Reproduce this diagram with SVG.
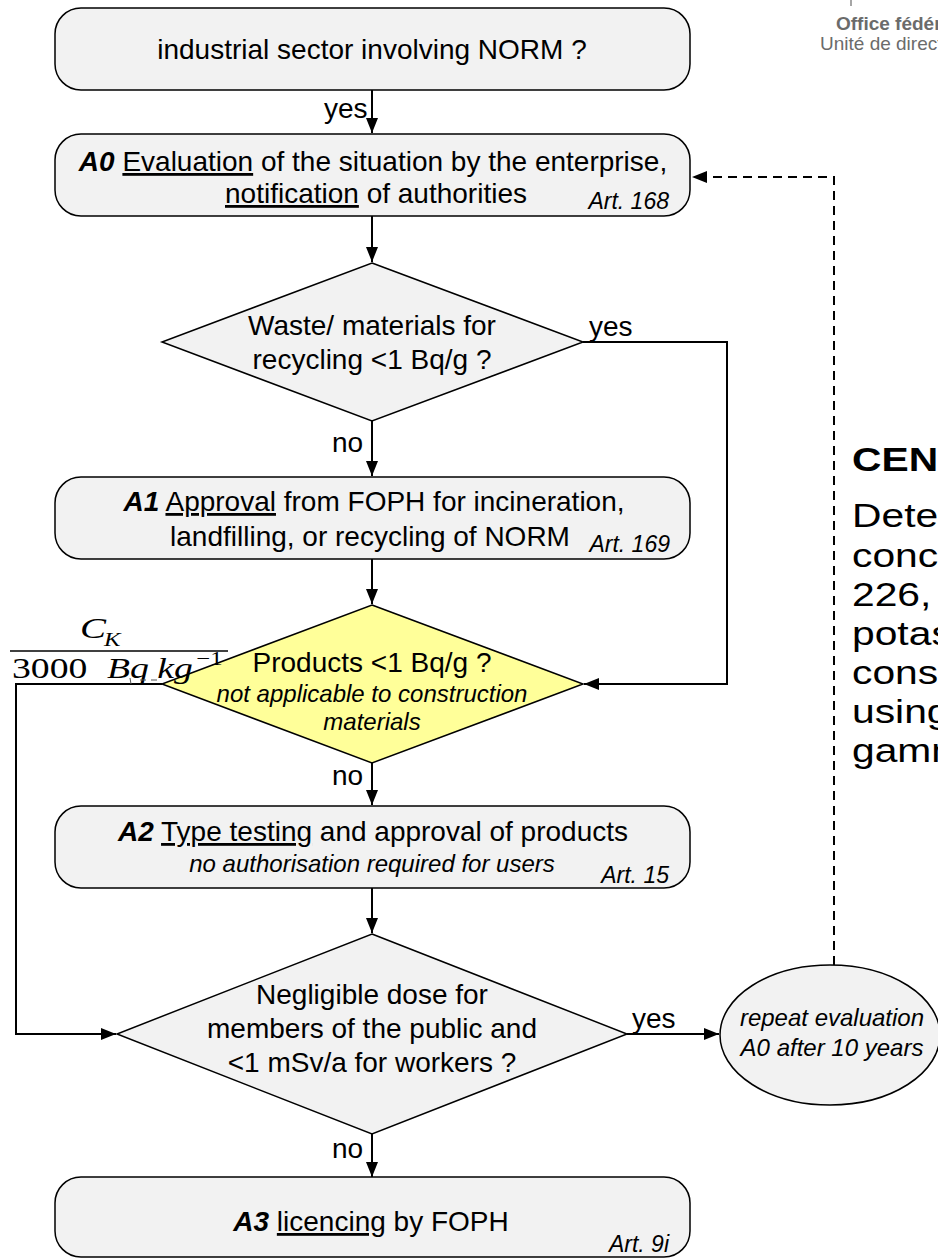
<svg xmlns="http://www.w3.org/2000/svg" width="938" height="1258" viewBox="0 0 938 1258">
<style>
.box{fill:#f2f2f2;stroke:#000;stroke-width:1.5}
.yel{fill:#ffff99;stroke:#000;stroke-width:1.5}
.t{font-family:"Liberation Sans",Arial,sans-serif;font-size:28px;fill:#000}
.c{text-anchor:middle}
.it{font-style:italic;font-size:24px}
.art{font-family:"Liberation Sans",Arial,sans-serif;font-style:italic;font-size:23px;text-anchor:end;fill:#000}
.bi{font-weight:bold;font-style:italic}
.u{text-decoration:underline}
.conn{fill:none;stroke:#000;stroke-width:2}
.dash{fill:none;stroke:#000;stroke-width:2;stroke-dasharray:9,6}
.f{font-family:"Liberation Serif","Times New Roman",serif;fill:#000}
.big{font-family:"Liberation Sans",Arial,sans-serif;font-size:34px;fill:#000}
.hdr{font-family:"Liberation Sans",Arial,sans-serif;fill:#6b6b6b;font-size:19px}
</style>
<defs>
<marker id="ah" markerUnits="userSpaceOnUse" markerWidth="15" markerHeight="12" refX="15" refY="6" orient="auto">
<path d="M0,0 L15,6 L0,12 z" fill="#000"/>
</marker>
</defs>

<g id="header">
<line x1="851" y1="0" x2="851" y2="6" stroke="#888" stroke-width="1.5"/>
<text class="hdr" x="836" y="30" font-weight="bold">Office fédéral de la santé publique OFSP</text>
<text class="hdr" x="820" y="50" font-size="20">Unité de direction Protection des consommateurs</text>
</g>

<g id="connectors">
<line class="conn" x1="372" y1="90" x2="372" y2="133" marker-end="url(#ah)"/>
<line class="conn" x1="372" y1="216" x2="372" y2="262" marker-end="url(#ah)"/>
<line class="conn" x1="372" y1="421" x2="372" y2="476" marker-end="url(#ah)"/>
<polyline class="conn" points="583,342 727,342 727,684 584,684" marker-end="url(#ah)"/>
<line class="conn" x1="372" y1="559" x2="372" y2="604" marker-end="url(#ah)"/>
<line class="conn" x1="372" y1="763" x2="372" y2="805" marker-end="url(#ah)"/>
<polyline class="conn" points="162,684 16,684 16,1034 116,1034" marker-end="url(#ah)"/>
<line class="conn" x1="372" y1="888" x2="372" y2="933" marker-end="url(#ah)"/>
<line class="conn" x1="627" y1="1034" x2="719" y2="1034" marker-end="url(#ah)"/>
<line class="conn" x1="372" y1="1134" x2="372" y2="1177" marker-end="url(#ah)"/>
<polyline class="dash" points="834,965 834,177 692,177" marker-end="url(#ah)"/>
<text class="t" x="324" y="118">yes</text>
<text class="t" x="589" y="336">yes</text>
<text class="t" x="332" y="452">no</text>
<text class="t" x="332" y="785">no</text>
<text class="t" x="632" y="1028">yes</text>
<text class="t" x="332" y="1158">no</text>
</g>

<g id="start">
<rect class="box" x="55" y="8" width="635" height="82" rx="26"/>
<text class="t c" x="372" y="59">industrial sector involving NORM ?</text>
</g>

<g id="a0">
<rect class="box" x="55" y="134" width="635" height="82" rx="26"/>
<text class="t c" x="373" y="171"><tspan class="bi">A0</tspan> <tspan class="u">Evaluation</tspan> of the situation by the enterprise,</text>
<text class="t c" x="376" y="203"><tspan class="u">notification</tspan> of authorities</text>
<text class="art" x="669" y="209">Art. 168</text>
</g>

<g id="d1">
<polygon class="box" points="372,263 583,342 372,421 162,342"/>
<text class="t c" x="372" y="335">Waste/ materials for</text>
<text class="t c" x="372" y="369">recycling &lt;1 Bq/g ?</text>
</g>

<g id="a1">
<rect class="box" x="55" y="477" width="635" height="82" rx="26"/>
<text class="t c" x="374" y="511"><tspan class="bi">A1</tspan> <tspan class="u">Approval</tspan> from FOPH for incineration,</text>
<text class="t c" x="370" y="546">landfilling, or recycling of NORM</text>
<text class="art" x="670" y="552">Art. 169</text>
</g>

<g id="d2">
<polygon class="yel" points="372,605 583,684 372,763 162,684"/>
<text class="t c" x="372" y="672" font-size="27">Products &lt;1 Bq/g ?</text>
<text class="t c it" x="372" y="702" font-size="25">not applicable to construction</text>
<text class="t c it" x="372" y="730" font-size="25">materials</text>
</g>

<g id="a2">
<rect class="box" x="55" y="806" width="635" height="82" rx="26"/>
<text class="t c" x="373" y="841"><tspan class="bi">A2</tspan> <tspan class="u">Type testing</tspan> and approval of products</text>
<text class="t c it" x="372" y="872">no authorisation required for users</text>
<text class="art" x="669" y="883">Art. 15</text>
</g>

<g id="d3">
<polygon class="box" points="372,934 627,1034 372,1134 117,1034"/>
<text class="t c" x="372" y="1004">Negligible dose for</text>
<text class="t c" x="372" y="1038">members of the public and</text>
<text class="t c" x="372" y="1072">&lt;1 mSv/a for workers ?</text>
</g>

<g id="repeat">
<ellipse class="box" cx="830" cy="1035" rx="110" ry="70"/>
<text class="t c it" x="832" y="1026">repeat evaluation</text>
<text class="t c it" x="832" y="1056">A0 after 10 years</text>
</g>

<g id="a3">
<rect class="box" x="55" y="1177" width="635" height="80" rx="26"/>
<text class="t c" x="371" y="1231"><tspan class="bi">A3</tspan> <tspan class="u">licencing</tspan> by FOPH</text>
<text class="art" x="669" y="1252">Art. 9i</text>
</g>

<g id="side" transform="scale(1.2,1)">
<text class="big" x="710" y="471" font-weight="bold" font-size="46">CEN/TS 17216</text>
<text class="big" x="710" y="527">Determination of activity</text>
<text class="big" x="710" y="567">concentrations of radium-</text>
<text class="big" x="710" y="606">226, thorium-232 and</text>
<text class="big" x="710" y="645">potassium-40 in</text>
<text class="big" x="710" y="684">construction products</text>
<text class="big" x="710" y="723">using semiconductor</text>
<text class="big" x="710" y="762">gamma-ray spectrometry</text>
</g>

<g id="formula">
<line x1="10" y1="651" x2="228" y2="651" stroke="#000" stroke-width="1.5"/>
<g transform="scale(1.3,1)">
<text class="f" x="61.5" y="638" font-size="30" font-style="italic">C</text>
<text class="f" x="80" y="646" font-size="19" font-style="italic">K</text>
<text class="f" x="9.2" y="678" font-size="29">3000</text>
<text class="f" x="82.3" y="678" font-size="29" font-style="italic">Bq</text>
<text class="f" x="121" y="678" font-size="29" font-style="italic">kg</text>
<text class="f" x="151" y="665" font-size="19">−1</text>
</g>
<path d="M130,678 L131,684 M140,680 L146,680 M151,680 L157,680" stroke="#555" stroke-width="1" fill="none"/>
</g>
</svg>
